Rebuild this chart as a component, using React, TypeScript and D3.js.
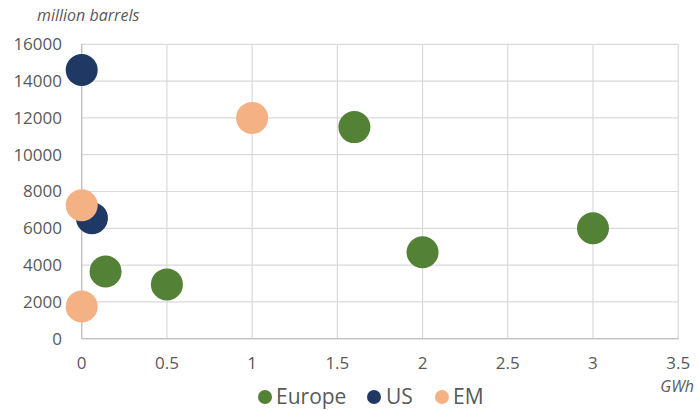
import React from "react";
import * as d3 from "d3";

const seriesNames = ["Europe", "US", "EM"];
const seriesColors = ["#538135", "#1F3864", "#F4B183"];
const europeX = [1.6, 0.14, 0.5, 2, 3];
const europeY = [11500, 3650, 2950, 4700, 6000];
const usX = [0, 0.06];
const usY = [14600, 6550];
const emX = [1, 0, 0];
const emY = [12000, 7250, 1750];
const xTicks = [0, 0.5, 1, 1.5, 2, 2.5, 3, 3.5];
const yTicks = [0, 2000, 4000, 6000, 8000, 10000, 12000, 14000, 16000];

const W = 698, H = 410;
const L = 81.7, R = 678.2, T = 44.3, B = 338.7;

export default function App() {
  const x = d3.scaleLinear().domain([0, 3.5]).range([L, R]);
  const y = d3.scaleLinear().domain([0, 16000]).range([B, T]);
  const series = [
    { name: seriesNames[0], color: seriesColors[0], xs: europeX, ys: europeY },
    { name: seriesNames[1], color: seriesColors[1], xs: usX, ys: usY },
    { name: seriesNames[2], color: seriesColors[2], xs: emX, ys: emY },
  ];
  const font = "'Open Sans', Lato, sans-serif";
  const legendItems = [
    { cx: 265, tx: 276 },
    { cx: 374, tx: 386 },
    { cx: 442, tx: 453 },
  ];
  return (
    <svg width={W} height={H} style={{ position: "absolute", left: 0, top: 0, background: "#fff" }}>
      <g>
        {xTicks.map((t) => (
          <line key={"gx" + t} x1={x(t)} x2={x(t)} y1={T} y2={B} stroke="#d9d9d9" strokeWidth={1.2} />
        ))}
        {yTicks.map((t) => (
          <line key={"gy" + t} x1={L} x2={R} y1={y(t)} y2={y(t)} stroke="#d9d9d9" strokeWidth={1.2} />
        ))}
        <line x1={L} x2={R} y1={B} y2={B} stroke="#bfbfbf" strokeWidth={1.2} />
        <line x1={L} x2={L} y1={T} y2={B} stroke="#bfbfbf" strokeWidth={1.2} />
      </g>
      <g fill="#595959" fontFamily={font} fontSize={17}>
        {yTicks.map((t) => (
          <text key={"ty" + t} x={62} y={y(t)} dy="0.35em" textAnchor="end">{t}</text>
        ))}
        {xTicks.map((t) => (
          <text key={"tx" + t} x={x(t)} y={369} textAnchor="middle">{t}</text>
        ))}
        <text x={37} y={21} fontSize={16} fontStyle="italic">million barrels</text>
        <text x={694} y={392} fontSize={16} fontStyle="italic" textAnchor="end">GWh</text>
      </g>
      <g>
        {series.map((s) =>
          s.xs.map((xv, i) => (
            <circle key={s.name + i} cx={x(xv)} cy={y(s.ys[i])} r={16} fill={s.color} />
          ))
        )}
      </g>
      <g fontFamily={font} fontSize={21} fill="#595959">
        {series.map((s, i) => (
          <g key={"lg" + s.name}>
            <circle cx={legendItems[i].cx} cy={397} r={7} fill={s.color} />
            <text x={legendItems[i].tx} y={397} dy="0.35em">{s.name}</text>
          </g>
        ))}
      </g>
    </svg>
  );
}
